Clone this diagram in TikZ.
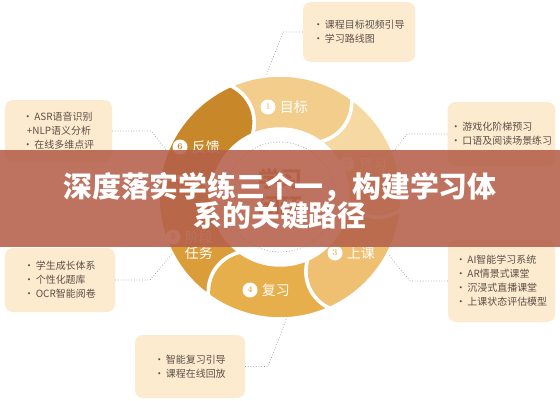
\documentclass[tikz,border=0pt]{standalone}
\usepackage{fontspec}
\newfontfamily\cjk{Noto Sans CJK SC}
\usetikzlibrary{positioning}
\definecolor{segA}{HTML}{F3CD8B}
\definecolor{segB}{HTML}{F6D8A2}
\definecolor{segC}{HTML}{EFBF72}
\definecolor{segD}{HTML}{E7AF4C}
\definecolor{segE}{HTML}{DA9D3A}
\definecolor{segF}{HTML}{C8882A}
\definecolor{boxfill}{HTML}{FDEBD0}
\definecolor{boxtext}{HTML}{5B5046}
\definecolor{bandred}{HTML}{B4604A}
\definecolor{coretext}{HTML}{C46A2C}
\tikzset{
  petal/.style={draw=white, line width=3.5bp, line join=round},
  infobox/.style={fill=boxfill, rounded corners=8bp, align=left, text=boxtext,
    font=\cjk\fontsize{10}{14}\selectfont},
  leader/.style={draw=gray!80, dotted, line width=0.7bp},
  numdot/.style={circle, fill=white, inner sep=0pt, minimum size=15bp,
    font=\fontsize{9}{9}\selectfont\bfseries},
  seglabel/.style={text=white, inner sep=0pt, font=\cjk\fontsize{14}{16}\selectfont}
}
\begin{document}
\begin{tikzpicture}[x=1bp,y=1bp]
\useasboundingbox (0,0) rectangle (560,400);
\fill[white] (0,0) rectangle (560,400);

\begin{scope}[shift={(280,203)}]
\path[petal, fill=segA] (114:122bp) arc[start angle=114, end angle=54, radius=122bp] to[bend left=40] (54:68bp) arc[start angle=54, end angle=114, radius=68bp] to[bend right=40] (114:122bp) -- cycle;
\path[petal, fill=segB] (54:122bp) arc[start angle=54, end angle=-6, radius=122bp] to[bend left=40] (-6:68bp) arc[start angle=-6, end angle=54, radius=68bp] to[bend right=40] (54:122bp) -- cycle;
\path[petal, fill=segC] (-6:122bp) arc[start angle=-6, end angle=-66, radius=122bp] to[bend left=40] (-66:68bp) arc[start angle=-66, end angle=-6, radius=68bp] to[bend right=40] (-6:122bp) -- cycle;
\path[petal, fill=segD] (-66:122bp) arc[start angle=-66, end angle=-126, radius=122bp] to[bend left=40] (-126:68bp) arc[start angle=-126, end angle=-66, radius=68bp] to[bend right=40] (-66:122bp) -- cycle;
\path[petal, fill=segE] (-126:122bp) arc[start angle=-126, end angle=-186, radius=122bp] to[bend left=40] (-186:68bp) arc[start angle=-186, end angle=-126, radius=68bp] to[bend right=40] (-126:122bp) -- cycle;
\path[petal, fill=segF] (174:122bp) arc[start angle=174, end angle=114, radius=122bp] to[bend left=40] (114:68bp) arc[start angle=114, end angle=174, radius=68bp] to[bend right=40] (174:122bp) -- cycle;
\draw[gray!70, dotted, line width=0.8bp] (0,0) circle[radius=55bp];
\coordinate (goalRim) at (96.5:122bp);
\coordinate (previewRim) at (21.7:122bp);
\coordinate (classRim) at (-27.8:122bp);
\coordinate (reviewRim) at (-87:122bp);
\coordinate (taskRim) at (-152.2:122bp);
\coordinate (feedbackRim) at (157.8:122bp);
\end{scope}

\node[text=coretext, align=center, font=\cjk\bfseries\fontsize{22}{27}\selectfont] (core) at (280,207) {学习\\闭环};

\node[numdot, text=segA] (n1) at (268,293) {1};
\node[seglabel, right=4bp of n1] (l1) {目标};
\node[numdot, text=segB] (n2) at (347,236) {2};
\node[seglabel, right=4bp of n2] (l2) {预习};
\node[numdot, text=segC] (n3) at (335,147) {3};
\node[seglabel, right=4bp of n3] (l3) {上课};
\node[numdot, text=segD] (n4) at (250,110) {4};
\node[seglabel, right=4bp of n4] (l4) {复习};
\node[numdot, text=segE] (n5) at (173,163) {5};
\node[seglabel, right=4bp of n5] (l5) {阶段};
\node[seglabel, below=3bp of l5] (l5b) {任务};
\node[numdot, text=segF] (n6) at (180,253) {6};
\node[seglabel, right=4bp of n6] (l6) {反馈};

\node[infobox, minimum width=112bp, minimum height=60bp] (goalbox) at (359,368) {·\,课程目标视频引导\\·\,学习路线图};
\node[infobox, minimum width=107bp, minimum height=62bp] (feedbackbox) at (58.5,269) {·\,ASR语音识别\\\hspace{4bp}+NLP语义分析\\·\,在线多维点评};
\node[infobox, minimum width=107bp, minimum height=64bp] (previewbox) at (501.5,266) {·\,游戏化阶梯预习\\·\,口语及阅读场景练习};
\node[infobox, minimum width=110bp, minimum height=64bp] (taskbox) at (60,120) {·\,学生成长体系\\·\,个性化题库\\·\,OCR智能阅卷};
\node[infobox, minimum width=107bp, minimum height=82bp] (classbox) at (501.5,119) {·\,AI智能学习系统\\·\,AR情景式课堂\\·\,沉浸式直播课堂\\·\,上课状态评估模型};
\node[infobox, minimum width=110bp, minimum height=63bp] (reviewbox) at (190,33.5) {·\,智能复习引导\\·\,课程在线回放};

\coordinate (goalKnee) at (283,368);
\coordinate (feedbackKnee) at (151,269);
\coordinate (previewKnee) at (407,266);
\coordinate (taskKnee) at (150,120);
\coordinate (classKnee) at (410,119);
\coordinate (reviewKnee) at (268,33.5);
\draw[leader] (goalbox.west) -- (goalKnee) -- (goalRim);
\draw[leader] (feedbackbox.east) -- (feedbackKnee) -- (feedbackRim);
\draw[leader] (previewbox.west) -- (previewKnee) -- (previewRim);
\draw[leader] (taskbox.east) -- (taskKnee) -- (taskRim);
\draw[leader] (classbox.west) -- (classKnee) -- (classRim);
\draw[leader] (reviewbox.east) -- (reviewKnee) -- (reviewRim);

\fill[bandred, opacity=0.88] (0,153) rectangle (560,250);
\node[text=white, align=center, font=\cjk\bfseries\fontsize{29}{30}\selectfont] (headline) at (280,199) {深度落实学练三个一，构建学习体\\系的关键路径};
\end{tikzpicture}
\end{document}
